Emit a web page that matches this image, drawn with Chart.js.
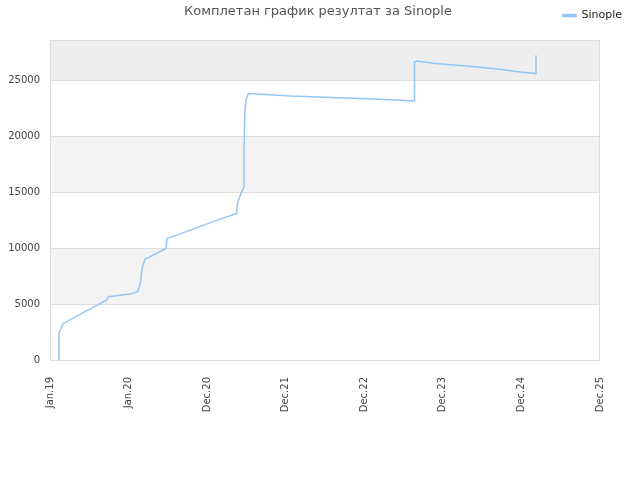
<!DOCTYPE html>
<html lang="sr">
<head>
    <meta charset="UTF-8">
    <title>Комплетан график резултат за Sinople</title>
    <script src="https://cdn.jsdelivr.net/npm/chart.js"></script>
    <style>
        body { margin: 0; background: #fff; }
        #wrap { width: 640px; height: 480px; }
    </style>
</head>
<body>
    <div id="wrap"><canvas id="myChart" width="640" height="480"></canvas></div>

    <script>
        // x = years since Jan 2019 (tick positions 0..7)
        const xLabels = ['Jan.19', 'Jan.20', 'Dec.20', 'Dec.21', 'Dec.22', 'Dec.23', 'Dec.24', 'Dec.25'];
        const seriesName = 'Sinople';
        const xValues = [0.115, 0.115, 0.169, 0.722, 0.742, 1.018, 1.116, 1.154, 1.167, 1.209,
                         1.476, 1.489, 1.613, 2.164, 2.376, 2.384, 2.440, 2.469, 2.469, 2.482,
                         2.495, 2.524, 2.694, 3.055, 3.415, 3.755, 4.115, 4.476, 4.624, 4.633,
                         4.633, 4.645, 4.667, 4.900, 5.304, 5.728, 5.982, 6.185, 6.185];
        const yValues = [0, 2400, 3270, 5360, 5650, 5890, 6100, 7000, 8040, 9000,
                         9970, 10860, 11160, 12590, 13100, 13990, 15030, 15480, 18750, 22320,
                         23210, 23810, 23750, 23600, 23510, 23420, 23330, 23210, 23150, 23150,
                         25890, 26630, 26720, 26490, 26280, 25980, 25740, 25600, 27230];
        const yTicks = [0, 5000, 10000, 15000, 20000, 25000];
        const yMax = 28600;

        const points = xValues.map((x, i) => ({ x: x, y: yValues[i] }));

        // alternating background bands + frame + title
        const decor = {
            id: 'decor',
            afterInit(chart) {
                // make the legend box reserve 40px so the plot starts at y=40
                const lg = chart.legend;
                if (lg) {
                    const fit = lg.fit;
                    lg.fit = function () { fit.call(this); this.height = 39; };
                }
            },
            beforeDraw(chart) {
                const { ctx, chartArea: a, scales: { y } } = chart;
                ctx.save();
                for (let i = 0; i * 5000 < yMax; i++) {
                    if (i % 2 === 0) continue;
                    const top = y.getPixelForValue(Math.min((i + 1) * 5000, yMax));
                    const bot = y.getPixelForValue(i * 5000);
                    ctx.fillStyle = (i + 1) * 5000 > yMax ? '#eeeeee' : '#f3f3f3';
                    ctx.fillRect(a.left, top, a.right - a.left, bot - top);
                }
                ctx.restore();
            },
            afterDraw(chart) {
                const { ctx, chartArea: a } = chart;
                ctx.save();
                ctx.strokeStyle = '#dddddd';
                ctx.lineWidth = 1;
                ctx.strokeRect(a.left + 0.5, a.top + 0.5, a.right - a.left - 1, a.bottom - a.top);
                ctx.fillStyle = '#555555';
                ctx.font = '13px "DejaVu Sans"';
                ctx.textAlign = 'center';
                ctx.textBaseline = 'middle';
                ctx.fillText('Комплетан график резултат за ' + seriesName, 318, 12);
                ctx.restore();
            }
        };

        const ctx = document.getElementById('myChart').getContext('2d');
        const myChart = new Chart(ctx, {
            type: 'line',
            data: {
                datasets: [{
                    label: seriesName,
                    data: points,
                    borderColor: '#94c6f5',
                    backgroundColor: '#94c6f5',
                    borderWidth: 1.5,
                    pointRadius: 0,
                    fill: false,
                    tension: 0
                }]
            },
            options: {
                responsive: false,
                animation: false,
                layout: { padding: { top: 1, right: 9, left: 0, bottom: 0 } },
                plugins: {
                    legend: {
                        position: 'top',
                        align: 'end',
                        labels: {
                            boxWidth: 13,
                            boxHeight: 2,
                            padding: 9,
                            color: '#222',
                            font: { family: 'DejaVu Sans', size: 11 }
                        }
                    },
                    tooltip: { enabled: false }
                },
                scales: {
                    x: {
                        type: 'linear',
                        min: 0,
                        max: 7,
                        afterFit: s => { s.height = 120; },
                        grid: { display: false },
                        border: { display: false },
                        ticks: {
                            stepSize: 1,
                            autoSkip: false,
                            maxRotation: 90,
                            minRotation: 90,
                            padding: 9,
                            color: '#444',
                            font: { family: 'DejaVu Sans', size: 10 },
                            callback: v => xLabels[v]
                        }
                    },
                    y: {
                        min: 0,
                        max: yMax,
                        afterFit: s => { s.width = 50; },
                        afterBuildTicks: s => { s.ticks = yTicks.map(v => ({ value: v })); },
                        grid: { color: '#dedede', drawTicks: false },
                        border: { display: false },
                        ticks: {
                            padding: 10,
                            color: '#444',
                            font: { family: 'DejaVu Sans', size: 10 },
                            callback: v => String(v)
                        }
                    },
                    yRight: {
                        position: 'right',
                        afterFit: s => { s.width = 31; },
                        grid: { display: false },
                        border: { display: false },
                        ticks: { display: false }
                    }
                }
            },
            plugins: [decor]
        });
    </script>
</body>
</html>
